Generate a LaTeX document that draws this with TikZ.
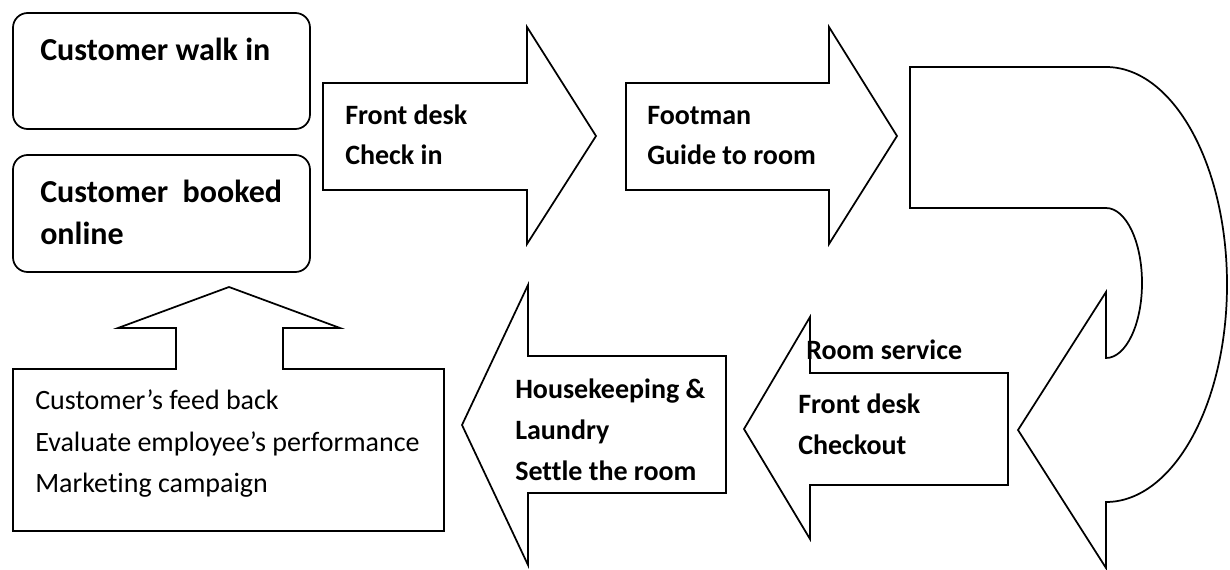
\documentclass[tikz,border=0pt]{standalone}
\usepackage{fontspec}
\setmainfont{Carlito}[Ligatures=NoCommon]
\usetikzlibrary{positioning}

\begin{document}
\begin{tikzpicture}[
    x=0.75pt, y=-0.75pt,
    outline/.style={draw, line width=1.3pt, line join=miter, fill=white},
    boxtext/.style={anchor=base west, inner sep=0pt, font=\bfseries\fontsize{24}{24}\selectfont},
    arrowtext/.style={anchor=base west, inner sep=0pt, font=\bfseries\fontsize{21}{21}\selectfont},
    plaintext/.style={anchor=base west, inner sep=0pt, font=\fontsize{21}{21}\selectfont}
]
    \useasboundingbox (0,0) rectangle (1230,570);

    % Shapes
    \draw[outline, rounded corners=11pt] (13,13) rectangle (310,129);
    \draw[outline, rounded corners=11pt] (13,155) rectangle (310,272);
    \draw[outline] (323,83) -- (527,83) -- (527,27) -- (596,136) -- (527,244)
        -- (527,190) -- (323,190) -- cycle;
    \draw[outline] (626,83) -- (829,83) -- (829,27) -- (897,136) -- (829,244)
        -- (829,190) -- (626,190) -- cycle;
    \draw[outline] (910,67) -- (1106,67) arc (-90:90:121 and 217.5)
        -- (1106,568) -- (1018,430) -- (1106,292) -- (1106,358)
        arc (90:-90:36 and 75) -- (910,208) -- cycle;
    \draw[outline] (1008,373) -- (810,373) -- (810,317) -- (744,429) -- (810,539)
        -- (810,485) -- (1008,485) -- cycle;
    \draw[outline] (726,356) -- (528,356) -- (528,285) -- (462,425) -- (528,565)
        -- (528,493) -- (726,493) -- cycle;
    \draw[outline] (13,369) -- (176,369) -- (176,328) -- (118,328) -- (229,287)
        -- (340,328) -- (283,328) -- (283,369) -- (444,369) -- (444,531)
        -- (13,531) -- cycle;

    % Labels
    \node[boxtext] (walkin) at (40,61) {Customer walk in};
    \node[boxtext] (booked) at (40,203) {Customer\ \ booked};
    \node[boxtext] (online) at (40,244) {online};
    \node[arrowtext] (desk) at (345,125) {Front desk};
    \node[arrowtext] (checkin) at (345,165) {Check in};
    \node[arrowtext] (footman) at (647,125) {Footman};
    \node[arrowtext] (guide) at (647,165) {Guide to room};
    \node[arrowtext] (service) at (806,359) {Room service};
    \node[arrowtext] (desk2) at (798,413) {Front desk};
    \node[arrowtext] (checkout) at (798,454) {Checkout};
    \node[arrowtext] (housekeeping) at (515,398) {Housekeeping \&};
    \node[arrowtext] (laundry) at (515,439) {Laundry};
    \node[arrowtext] (settle) at (515,480) {Settle the room};
    \node[plaintext] (feedback) at (35,409) {Customer’s feed back};
    \node[plaintext] (evaluate) at (35,451) {Evaluate employee’s performance};
    \node[plaintext] (marketing) at (35,492) {Marketing campaign};
\end{tikzpicture}
\end{document}
